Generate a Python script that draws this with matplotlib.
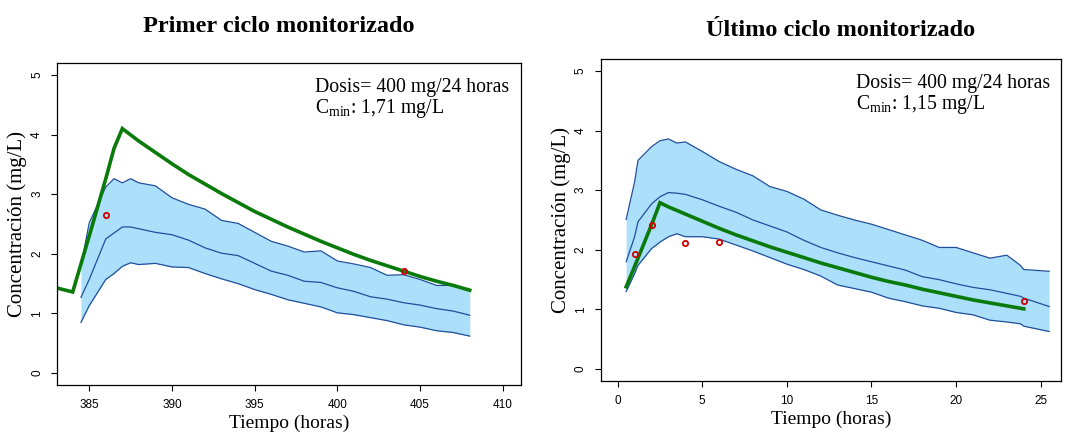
import matplotlib
matplotlib.use("Agg")
import matplotlib.pyplot as plt

# ---- Primer ciclo monitorizado ----
t1_band = [384.5, 385, 386, 386.5, 387, 387.5, 388, 389, 390, 391, 392, 393, 394,
           395, 396, 397, 398, 399, 400, 401, 402, 403, 404, 405, 406, 407, 408]
up1 = [1.80, 2.52, 3.12, 3.26, 3.19, 3.26, 3.19, 3.14, 2.94, 2.83, 2.75, 2.56, 2.51,
       2.36, 2.21, 2.13, 2.03, 2.05, 1.88, 1.83, 1.77, 1.64, 1.65, 1.57, 1.47, 1.47, 1.40]
med1 = [1.27, 1.57, 2.25, 2.35, 2.45, 2.45, 2.42, 2.36, 2.32, 2.23, 2.10, 2.01, 1.97,
        1.84, 1.71, 1.64, 1.54, 1.52, 1.43, 1.37, 1.28, 1.24, 1.18, 1.14, 1.08, 1.04, 0.97]
low1 = [0.85, 1.13, 1.57, 1.67, 1.79, 1.85, 1.82, 1.84, 1.78, 1.77, 1.67, 1.58, 1.50,
        1.40, 1.32, 1.23, 1.17, 1.11, 1.01, 0.98, 0.93, 0.88, 0.81, 0.77, 0.71, 0.68, 0.62]
t1_pred = [383, 384, 385, 386, 386.5, 387, 388, 389, 390, 391, 392, 393, 394, 395, 396,
           397, 398, 399, 400, 401, 402, 403, 404, 405, 406, 407, 408]
c1_pred = [1.43, 1.36, 2.30, 3.26, 3.77, 4.10, 3.89, 3.70, 3.51, 3.33, 3.17, 3.01, 2.86,
           2.71, 2.58, 2.45, 2.33, 2.21, 2.10, 1.99, 1.89, 1.80, 1.71, 1.62, 1.54, 1.47, 1.39]
t1_obs = [386, 404]
c1_obs = [2.65, 1.71]

# ---- Último ciclo monitorizado ----
t2_band = [0.5, 1, 1.2, 2, 2.5, 3, 3.5, 4, 5, 6, 7, 8, 9, 10, 11, 12, 13, 14, 15, 16,
           17, 18, 19, 20, 21, 22, 23, 23.8, 24, 25.5]
up2 = [2.51, 3.14, 3.50, 3.73, 3.83, 3.86, 3.79, 3.81, 3.65, 3.48, 3.35, 3.24, 3.06,
       2.98, 2.85, 2.67, 2.58, 2.50, 2.43, 2.34, 2.25, 2.16, 2.04, 2.04, 1.95, 1.86,
       1.91, 1.74, 1.67, 1.64]
med2 = [1.80, 2.22, 2.47, 2.77, 2.89, 2.96, 2.95, 2.93, 2.84, 2.73, 2.63, 2.50, 2.40,
        2.30, 2.16, 2.04, 1.95, 1.87, 1.80, 1.73, 1.66, 1.55, 1.50, 1.43, 1.37, 1.33,
        1.27, 1.22, 1.19, 1.05]
low2 = [1.30, 1.60, 1.74, 2.02, 2.13, 2.22, 2.27, 2.22, 2.22, 2.18, 2.08, 1.98, 1.87,
        1.76, 1.67, 1.56, 1.41, 1.35, 1.29, 1.19, 1.13, 1.06, 1.02, 0.95, 0.91, 0.82,
        0.79, 0.76, 0.72, 0.63]
t2_pred = [0.5, 1, 2, 2.5, 3, 4, 5, 6, 7, 8, 9, 10, 11, 12, 13, 14, 15, 16, 17, 18,
           19, 20, 21, 22, 23, 24]
c2_pred = [1.38, 1.72, 2.42, 2.79, 2.72, 2.60, 2.48, 2.36, 2.25, 2.15, 2.05, 1.96, 1.87,
           1.78, 1.70, 1.62, 1.54, 1.47, 1.41, 1.34, 1.28, 1.22, 1.16, 1.11, 1.06, 1.01]
t2_obs = [1, 2, 4, 6, 24]
c2_obs = [1.93, 2.42, 2.11, 2.13, 1.15]

titles = ["Primer ciclo monitorizado", "Último ciclo monitorizado"]
dose_text = "Dosis= 400 mg/24 horas"
cmin_texts = ["1,71 mg/L", "1,15 mg/L"]

SERIF = ["Liberation Serif", "DejaVu Serif"]
SANS = ["Liberation Sans", "DejaVu Sans"]
FILL = "#ABDFFA"
EDGE = "#1F4F9C"
GREEN = "#0A7A0A"

fig = plt.figure(figsize=(10.69, 4.34), dpi=100)
ax1 = fig.add_axes([0.0533, 0.1129, 0.4341, 0.7419])
ax2 = fig.add_axes([0.5620, 0.1221, 0.4305, 0.7419])

panels = [
    (ax1, t1_band, up1, med1, low1, t1_pred, c1_pred, t1_obs, c1_obs,
     (383.05, 411.1), [385, 390, 395, 400, 405, 410], (279, 27)),
    (ax2, t2_band, up2, med2, low2, t2_pred, c2_pred, t2_obs, c2_obs,
     (-1.0, 26.2), [0, 5, 10, 15, 20, 25], (841, 30)),
]

for i, (ax, tb, up, med, low, tp, cp, to, co, xlim, xt, tpos) in enumerate(panels):
    ax.fill_between(tb, low, up, color=FILL, lw=0)
    for s in (up, med, low):
        ax.plot(tb, s, color=EDGE, lw=0.9)
    ax.plot(tp, cp, color=GREEN, lw=2.6, solid_joinstyle="miter")
    ax.plot(to, co, "o", ms=3.8, mfc="none", mec="#D00000", mew=1.3)

    ax.set_xlim(*xlim)
    ax.set_ylim(-0.2, 5.2)
    ax.set_xticks(xt)
    ax.set_yticks([0, 1, 2, 3, 4, 5])
    ax.tick_params(labelsize=8.5, length=4, width=0.8, pad=6)
    for lab in ax.get_xticklabels() + ax.get_yticklabels():
        lab.set_family(SANS)
    for lab in ax.get_yticklabels():
        lab.set_rotation(90)
        lab.set_va("center")
    for sp in ax.spines.values():
        sp.set_linewidth(0.9)

    ax.set_xlabel("Tiempo (horas)", family=SERIF, fontsize=14, labelpad=3)
    ax.set_ylabel("Concentración (mg/L)", family=SERIF, fontsize=15, labelpad=3)
    fig.text(tpos[0] / 1069, 1 - tpos[1] / 434, titles[i], family=SERIF,
             fontsize=17.5, fontweight="bold", ha="center", va="center")

    ax.text(0.555, 0.925, dose_text, transform=ax.transAxes, family=SERIF,
            fontsize=14.2, va="center")
    ax.text(0.555, 0.86, "C$_{\\mathregular{min}}$: " + cmin_texts[i],
            transform=ax.transAxes, family=SERIF, fontsize=14.2, va="center")

fig.savefig("out.png", dpi=100)
